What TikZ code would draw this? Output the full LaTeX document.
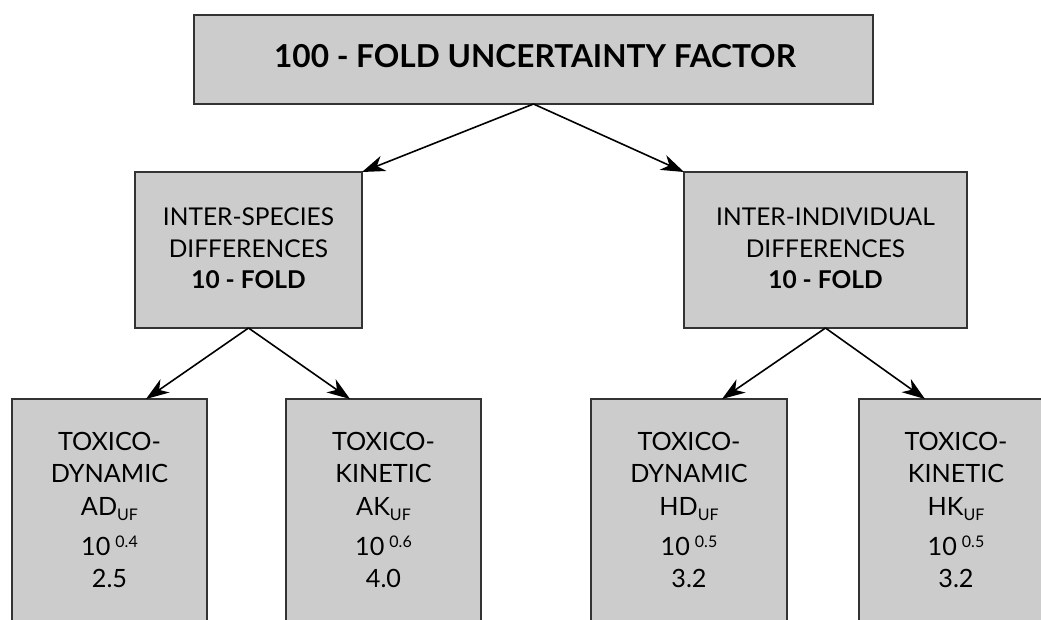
\documentclass[tikz,border=0pt]{standalone}
\usepackage{fontspec}
\setmainfont{Lato}
\usetikzlibrary{arrows.meta,calc}
\definecolor{boxfill}{HTML}{CCCCCC}
\definecolor{boxline}{HTML}{333333}
\newcommand{\subUF}{\raisebox{-5pt}{\fontsize{16}{16}\selectfont UF}}
\newcommand{\supx}[1]{\hspace{5pt}\raisebox{8pt}{\fontsize{16}{16}\selectfont #1}}
\begin{document}
\begin{tikzpicture}[x=1pt,y=-1pt,
  box/.style={draw=boxline, line width=1.3pt, fill=boxfill, inner sep=0pt, outer sep=0pt, anchor=north west},
  ln/.style={anchor=base, inner sep=0pt, font=\fontsize{24.5}{30}\selectfont},
  lb/.style={anchor=base, inner sep=0pt, font=\fontsize{25.2}{30}\selectfont},
  bln/.style={anchor=base, inner sep=0pt, font=\fontsize{24.5}{30}\selectfont\bfseries},
  tln/.style={anchor=base, inner sep=0pt, font=\fontsize{31.6}{36}\selectfont\bfseries},
  arr/.style={-{Stealth[length=23pt,width=16pt,inset=7pt]}, line width=1.6pt}]
\useasboundingbox (0,0) rectangle (1041,619);
% boxes
\node[box, minimum width=679pt, minimum height=89pt] (top) at (194,15) {};
\node[box, minimum width=227pt, minimum height=156pt] (m1) at (135,172) {};
\node[box, minimum width=283pt, minimum height=156pt] (m2) at (684,172) {};
\node[box, minimum width=195pt, minimum height=300pt] (b1) at (12,399) {};
\node[box, minimum width=195pt, minimum height=300pt] (b2) at (286,399) {};
\node[box, minimum width=196pt, minimum height=300pt] (b3) at (591,399) {};
\node[box, minimum width=196pt, minimum height=300pt] (b4) at (859,399) {};
% title
\node[tln] (t1) at (535,67) {100 - FOLD UNCERTAINTY FACTOR};
% middle texts
\node[ln]  (m1a) at (248.5,225) {INTER-SPECIES};
\node[ln]  (m1b) at (248.5,257) {DIFFERENCES};
\node[bln] (m1c) at (248.5,288) {10 - FOLD};
\node[ln]  (m2a) at (825.5,225) {INTER-INDIVIDUAL};
\node[ln]  (m2b) at (825.5,257) {DIFFERENCES};
\node[bln] (m2c) at (825.5,288) {10 - FOLD};
% bottom texts
\node[lb] (b1a) at (109.5,450) {TOXICO-};
\node[lb] (b1b) at (109.5,482) {DYNAMIC};
\node[lb] (b1c) at (109.5,515) {AD\subUF};
\node[lb] (b1d) at (109.5,555) {10\supx{0.4}};
\node[lb] (b1e) at (109.5,587) {2.5};
\node[lb] (b2a) at (383.5,450) {TOXICO-};
\node[lb] (b2b) at (383.5,482) {KINETIC};
\node[lb] (b2c) at (383.5,515) {AK\subUF};
\node[lb] (b2d) at (383.5,555) {10\supx{0.6}};
\node[lb] (b2e) at (383.5,587) {4.0};
\node[lb] (b3a) at (689,450) {TOXICO-};
\node[lb] (b3b) at (689,482) {DYNAMIC};
\node[lb] (b3c) at (689,515) {HD\subUF};
\node[lb] (b3d) at (689,555) {10\supx{0.5}};
\node[lb] (b3e) at (689,587) {3.2};
\node[lb] (b4a) at (956,450) {TOXICO-};
\node[lb] (b4b) at (956,482) {KINETIC};
\node[lb] (b4c) at (956,515) {HK\subUF};
\node[lb] (b4d) at (956,555) {10\supx{0.5}};
\node[lb] (b4e) at (956,587) {3.2};
% arrows
\draw[arr] (top.south) -- (m1.north east);
\draw[arr] (top.south) -- (m2.north west);
\draw[arr] (m1.south) -- ([xshift=134pt]b1.north west);
\draw[arr] (m1.south) -- ([xshift=64pt]b2.north west);
\draw[arr] (m2.south) -- ([xshift=131pt]b3.north west);
\draw[arr] (m2.south) -- ([xshift=66pt]b4.north west);
\end{tikzpicture}
\end{document}
